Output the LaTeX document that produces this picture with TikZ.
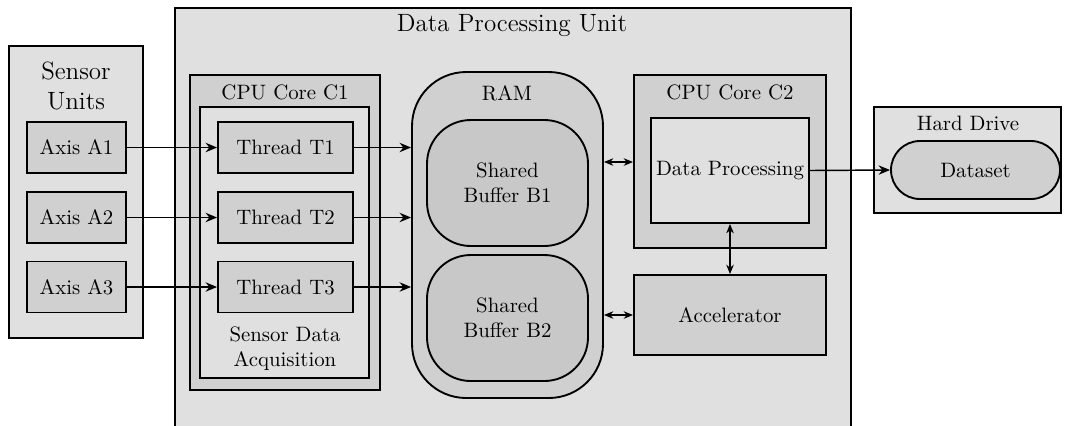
\documentclass[tikz,border=0pt]{standalone}
\usetikzlibrary{arrows.meta}
\definecolor{lightg}{HTML}{E0E0E0}
\definecolor{midg}{HTML}{D0D0D0}
\definecolor{darkg}{HTML}{C8C8C8}
\tikzset{
  frame/.style={draw=black, line width=0.9pt, inner sep=0pt, fill=#1},
  frame/.default=lightg,
  sz/.style 2 args={minimum width={#1*0.48pt}, minimum height={#2*0.48pt}},
  rbox/.style={frame=#1, rounded corners=26pt},
  bbox/.style={frame=#1, rounded corners=21pt, align=center},
  pill/.style={frame=#1, rounded corners=13.9pt},
  conn/.style={line width=0.7pt, -{Stealth[length=5.5pt,width=4.5pt]}},
  dconn/.style={line width=0.7pt, {Stealth[length=4.5pt,width=3.6pt]}-{Stealth[length=4.5pt,width=3.6pt]}},
  ttl/.style={inner sep=0pt, align=center},
}
\begin{document}
\begin{tikzpicture}[x=0.48pt,y=-0.48pt]
\useasboundingbox (0,0) rectangle (1067,425);
\clip (0,0) rectangle (1067,425);
% Sensor units
\node[frame=lightg, sz={134}{292}] (su) at (76,192) {};
\node[ttl, font=\large] (sut) at (76,86) {Sensor\\Units};
\node[frame=midg, sz={99}{51}] (a1) at (76.5,147.5) {Axis A1};
\node[frame=midg, sz={99}{51}] (a2) at (76.5,217.5) {Axis A2};
\node[frame=midg, sz={99}{51}] (a3) at (76.5,287) {Axis A3};
% Data processing unit
\node[frame=lightg, sz={676}{437}] (dpu) at (513,226.5) {};
\node[ttl, font=\large] (dput) at (512,26) {Data Processing Unit};
% CPU Core C1
\node[frame=midg, sz={190}{315}] (c1) at (285,232.5) {};
\node[ttl] (c1t) at (285,92) {CPU Core C1};
\node[frame=lightg, sz={169}{271}] (sda) at (284.5,242.5) {};
\node[ttl] (sdat) at (285,349) {Sensor Data\\Acquisition};
\node[frame=midg, sz={135}{51}] (t1) at (285.5,147.5) {Thread T1};
\node[frame=midg, sz={135}{51}] (t2) at (285.5,217.5) {Thread T2};
\node[frame=midg, sz={135}{51}] (t3) at (285.5,287) {Thread T3};
% RAM
\node[rbox=midg, sz={191}{326}] (ram) at (507.5,235) {};
\node[ttl] (ramt) at (507,93) {RAM};
\node[bbox=darkg, sz={161}{126}] (b1) at (507.5,183) {Shared\\Buffer B1};
\node[bbox=darkg, sz={161}{126}] (b2) at (507.5,318) {Shared\\Buffer B2};
% CPU Core C2
\node[frame=midg, sz={192}{173}] (c2) at (730,161.5) {};
\node[ttl] (c2t) at (730,92) {CPU Core C2};
\node[frame=lightg, sz={158}{105}] (dp) at (730,170.5) {Data Processing};
\node[frame=midg, sz={192}{80}] (acc) at (730,315) {Accelerator};
% Hard drive
\node[frame=lightg, sz={187}{106}] (hd) at (967.5,160) {};
\node[ttl] (hdt) at (968,123) {Hard Drive};
\node[pill=midg, sz={169}{58}] (ds) at (975.5,170) {Dataset};
% connectors
\coordinate (r1) at (603,162);
\draw[conn] (a1.east) -- (t1.west);
\draw[conn] (a2.east) -- (t2.west);
\draw[conn] (a3.east) -- (t3.west);
\draw[conn] (t1.east) -- (t1.east -| ram.west);
\draw[conn] (t2.east) -- (t2.east -| ram.west);
\draw[conn] (t3.east) -- (t3.east -| ram.west);
\draw[dconn] (ram.east |- r1) -- (c2.west |- r1);
\draw[dconn] (ram.east |- acc.west) -- (acc.west);
\draw[dconn] (dp.south) -- (acc.north);
\draw[conn] (dp.east) -- (ds.west);
\end{tikzpicture}
\end{document}
